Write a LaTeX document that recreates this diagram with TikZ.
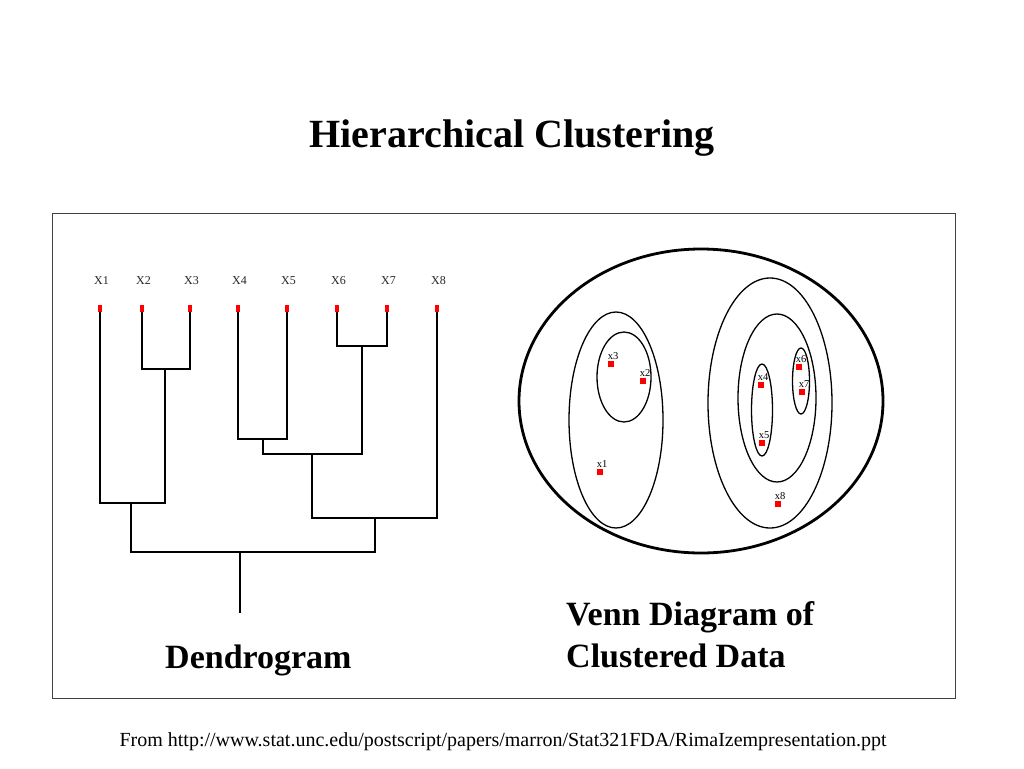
\documentclass[tikz,border=0pt]{standalone}
\usepackage{fontspec}
\setmainfont{Liberation Serif}
\usetikzlibrary{positioning}

\tikzset{
  leafdot/.style={fill=red, inner sep=0pt, minimum width=4.5pt, minimum height=7pt},
  leaflabel/.style={inner sep=0pt, text height=8pt, text depth=0pt, black!85, font=\fontsize{12}{13}\selectfont},
  vdot/.style={fill=red, inner sep=0pt, minimum size=5.5pt},
  vlabel/.style={inner sep=0pt, text height=7pt, text depth=0pt, xshift=2pt, font=\fontsize{10.5}{11}\selectfont},
  dendro/.style={line width=2.7pt, line join=miter},
  cluster/.style={line width=1.3pt},
  caption/.style={inner sep=0pt, anchor=base west, font=\fontsize{34}{40}\selectfont\bfseries},
}

\begin{document}
\begin{tikzpicture}[x=1pt, y=-1pt]
  \useasboundingbox (0,0) rectangle (1024,768);
  %--- Title and frame
    \node[inner sep=0pt, anchor=base, font=\fontsize{40}{48}\selectfont\bfseries] (title) at (512,147) {Hierarchical Clustering};
    \draw[black!75, line width=0.8pt] (52,213) rectangle (955,698);
  %--- Dendrogram leaves
    \foreach \x [count=\i] in {100,142,190,238,287,337,387,437}
      \node[leafdot, label={[leaflabel, label distance=20pt, xshift=1.5pt]above:X\i}] (d\i) at (\x,308) {};
  %--- Dendrogram merges
    \coordinate (m23) at (165,369);
    \coordinate (m67) at (362,346);
    \coordinate (m45) at (263,439);
    \coordinate (m4567) at (312,454);
    \coordinate (m123) at (131,503);
    \coordinate (m45678) at (375,518);
    \coordinate (root) at (240,552);
    \coordinate (stem) at (240,613);
    \draw[dendro] (d2) |- (m23) -| (d3);
    \draw[dendro] (d6) |- (m67) -| (d7);
    \draw[dendro] (d4) |- (m45) -| (d5);
    \draw[dendro] (m45) |- (m4567) -| (m67);
    \draw[dendro] (d1) |- (m123) -| (m23);
    \draw[dendro] (m4567) |- (m45678) -| (d8);
    \draw[dendro] (m123) |- (root) -| (m45678);
    \draw[line width=2pt] (root) -- (stem);
    \node[caption] (dendrocap) at (165,668) {Dendrogram};
  %--- Venn diagram
    \draw[line width=2.8pt] (701,401) ellipse (182pt and 152pt);
    \draw[cluster] (616,420) ellipse (47pt and 108pt);
    \draw[cluster] (624,377) ellipse (27pt and 45pt);
    \draw[cluster] (770,403) ellipse (62pt and 125pt);
    \draw[cluster] (777,398) ellipse (39pt and 84pt);
    \draw[cluster] (762,410) ellipse (10.5pt and 46pt);
    \draw[cluster] (801,381) ellipse (8.5pt and 33pt);
  %--- Venn points
    \foreach \px/\py [count=\i] in {600/472, 643/381, 611/364, 761/385, 762/443, 799/367, 802/392, 778/504}
      \node[vdot, label={[vlabel, label distance=1pt]above:x\i}] (v\i) at (\px,\py) {};
    \node[caption] (venncap) at (566,625) {Venn Diagram of};
    \node[caption] (venncap2) at (566,667) {Clustered Data};
  %--- Source
    \node[inner sep=0pt, anchor=base, font=\fontsize{20}{24}\selectfont] (source) at (503,746)
      {From http://www.stat.unc.edu/postscript/papers/marron/Stat321FDA/RimaIzempresentation.ppt};
\end{tikzpicture}
\end{document}
